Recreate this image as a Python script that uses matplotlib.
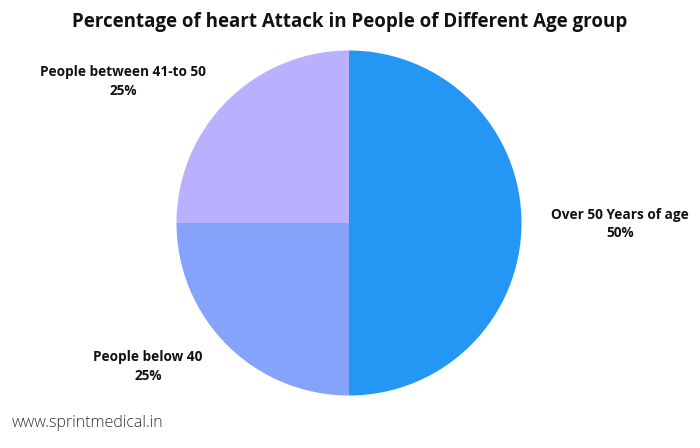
import matplotlib.pyplot as plt

# data
groups = ['Over 50 Years of age', 'People below 40', 'People between 41-to 50']
percent = [50, 25, 25]
colors = ['#2397F3', '#86A3FC', '#B9B1FD']

# label centres (data units, pie radius = 1)
label_pos = [(1.571, -0.006), (-1.165, -0.832), (-1.31, 0.82)]

plt.rcParams['font.family'] = ['Open Sans', 'DejaVu Sans']

fig = plt.figure(figsize=(7, 4.48), dpi=100)
ax = fig.add_axes([0, 0, 1, 1])

ax.pie(percent, colors=colors, startangle=90, counterclock=False,
       wedgeprops={'linewidth': 0})

for name, p, (x, y) in zip(groups, percent, label_pos):
    ax.text(x, y, f'{name}\n{p}%', ha='center', va='center', fontsize=9.85,
            fontweight='bold', linespacing=1.4, color='#111111')

# px -> data: 1 unit = 172.5 px, centre at (349, 223)
ax.set_xlim(-349 / 172.5, 351 / 172.5)
ax.set_ylim(-225 / 172.5, 223 / 172.5)
ax.axis('off')

fig.text(0.5, 1 - 22 / 448, 'Percentage of heart Attack in People of Different Age group',
         ha='center', va='center', fontsize=13.5, fontweight='bold', color='#111111')
fig.text(12 / 700, 1 - 423 / 448, 'www.sprintmedical.in', ha='left', va='center',
         fontsize=11.5, fontweight='light', color='#333333')

fig.savefig('out.png', dpi=100)
